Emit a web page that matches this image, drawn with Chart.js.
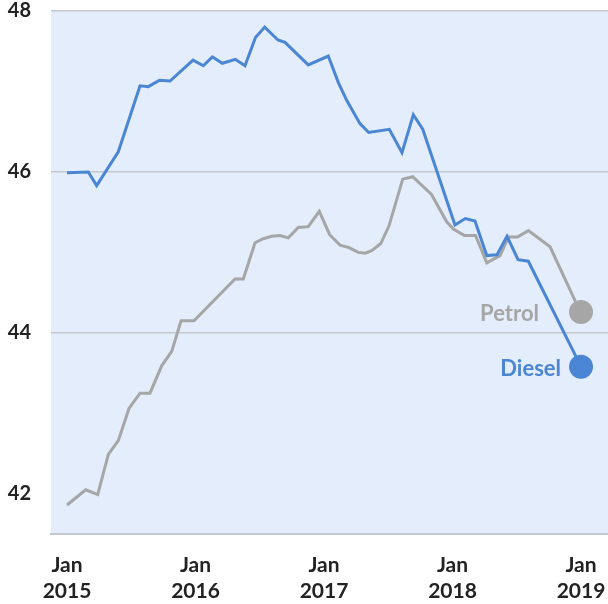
<!DOCTYPE html>
<html>
<head>
<meta charset="utf-8">
<script src="https://cdn.jsdelivr.net/npm/chart.js@4"></script>
<style>
    html, body { margin: 0; padding: 0; background: #ffffff; }
    #wrap { width: 608px; height: 604px; }
</style>
</head>
<body>
<div id="wrap"><canvas id="fuelChart" width="608" height="604"></canvas></div>
<script>
// months since Jan 2015
const dieselMonths = [0, 1.99, 2.77, 4.79, 6.82, 7.59, 8.64, 9.62, 11.77, 12.73, 13.57, 14.5, 15.72, 16.62, 17.6, 18.46, 19.7, 20.36, 22.53, 24.4, 25.34, 26.12, 27.36, 28.17, 30.1, 31.28, 32.34, 33.22, 36.23, 37.2, 38.1, 39.2, 40.16, 41.09, 42.12, 43.08, 48];
const dieselPrice = [45.99, 46.0, 45.83, 46.25, 47.07, 47.06, 47.14, 47.13, 47.39, 47.32, 47.43, 47.35, 47.4, 47.32, 47.67, 47.8, 47.64, 47.61, 47.33, 47.44, 47.11, 46.89, 46.6, 46.49, 46.53, 46.24, 46.71, 46.53, 45.34, 45.42, 45.39, 44.96, 44.97, 45.2, 44.91, 44.89, 43.58];

const petrolMonths = [0, 1.75, 2.87, 3.86, 4.79, 5.79, 6.82, 7.75, 8.84, 9.78, 10.65, 11.86, 15.69, 16.46, 17.56, 18.33, 19.12, 19.89, 20.67, 21.6, 22.53, 23.56, 24.53, 25.5, 26.34, 27.2, 27.83, 28.46, 29.3, 30.07, 31.35, 32.28, 34.04, 35.46, 36.08, 37.12, 38.15, 39.2, 40.44, 41.23, 42.07, 43.08, 45.11, 47.44, 48];
const petrolPrice = [41.86, 42.05, 41.99, 42.49, 42.66, 43.06, 43.25, 43.25, 43.59, 43.77, 44.15, 44.15, 44.67, 44.67, 45.12, 45.17, 45.2, 45.21, 45.18, 45.31, 45.32, 45.51, 45.22, 45.09, 45.06, 45.0, 44.99, 45.02, 45.11, 45.33, 45.91, 45.94, 45.72, 45.38, 45.29, 45.21, 45.21, 44.87, 44.96, 45.19, 45.19, 45.27, 45.07, 44.4, 44.26];

const yTicks = [42, 44, 46, 48];
const xTicks = [0, 12, 24, 36, 48];
const xTickMonth = 'Jan';
const startYear = 2015;

const COLORS = {
    diesel: '#4a86d4',
    petrol: '#a6a6a6',
    plotBg: '#e3edfb',
    grid: '#c5c9ce',
    text: '#222222'
};

const FONT = 'Lato, "Open Sans", sans-serif';

function toPoints(xs, ys) {
    return xs.map((x, i) => ({ x: x, y: ys[i] }));
}

function endRadius(ctx) {
    return ctx.dataIndex === ctx.dataset.data.length - 1 ? 12 : 0;
}

const plotBackground = {
    id: 'plotBackground',
    beforeDraw(chart) {
        const { ctx, chartArea } = chart;
        ctx.save();
        ctx.fillStyle = COLORS.plotBg;
        ctx.fillRect(chartArea.left, chartArea.top, chartArea.right - chartArea.left, chartArea.bottom - chartArea.top);
        ctx.restore();
    }
};

// series names written beside the end markers
const endLabels = {
    id: 'endLabels',
    afterDatasetsDraw(chart) {
        const { ctx } = chart;
        ctx.save();
        ctx.font = 'bold 22px ' + FONT;
        ctx.textAlign = 'right';
        ctx.textBaseline = 'middle';
        chart.data.datasets.forEach((ds, i) => {
            const meta = chart.getDatasetMeta(i);
            const last = meta.data[meta.data.length - 1];
            ctx.fillStyle = ds.borderColor;
            ctx.fillText(ds.label, last.x - ds.labelGap, last.y + 2);
        });
        ctx.restore();
    }
};

const ctx = document.getElementById('fuelChart').getContext('2d');
new Chart(ctx, {
    type: 'line',
    data: {
        datasets: [{
            label: 'Diesel',
            data: toPoints(dieselMonths, dieselPrice),
            borderColor: COLORS.diesel,
            backgroundColor: COLORS.diesel,
            borderWidth: 3,
            tension: 0,
            pointRadius: endRadius,
            pointHoverRadius: endRadius,
            pointBorderWidth: 0,
            labelGap: 20,
            fill: false,
            clip: false
        }, {
            label: 'Petrol',
            data: toPoints(petrolMonths, petrolPrice),
            borderColor: COLORS.petrol,
            backgroundColor: COLORS.petrol,
            borderWidth: 3,
            tension: 0,
            pointRadius: endRadius,
            pointHoverRadius: endRadius,
            pointBorderWidth: 0,
            labelGap: 42,
            fill: false,
            clip: false
        }]
    },
    options: {
        responsive: false,
        animation: false,
        layout: { autoPadding: false, padding: { top: 11, right: 0, bottom: 0, left: 0 } },
        plugins: {
            legend: { display: false },
            tooltip: { enabled: false }
        },
        scales: {
            x: {
                type: 'linear',
                min: -1.494,
                max: 50.52,
                afterBuildTicks: (axis) => {
                    axis.ticks = xTicks.map((v) => ({ value: v }));
                },
                afterFit: (axis) => {
                    axis.height = 70;
                    axis.paddingLeft = 0;
                    axis.paddingRight = 0;
                },
                grid: { display: false, drawTicks: false },
                border: { display: true, color: COLORS.grid, width: 2 },
                ticks: {
                    color: COLORS.text,
                    padding: 18,
                    maxRotation: 0,
                    autoSkip: false,
                    font: { family: FONT, size: 21, weight: 'bold', lineHeight: 1.25 },
                    callback: (v) => [xTickMonth, String(startYear + v / 12)]
                }
            },
            y: {
                min: 41.5,
                max: 48,
                afterBuildTicks: (axis) => {
                    axis.ticks = yTicks.map((v) => ({ value: v }));
                },
                afterFit: (axis) => {
                    axis.width = 51;
                    axis.paddingTop = 0;
                    axis.paddingBottom = 0;
                },
                grid: {
                    drawTicks: false,
                    lineWidth: 1.5,
                    color: (c) => (c.tick && c.tick.value === 42 ? 'rgba(0,0,0,0)' : COLORS.grid)
                },
                border: { display: false },
                ticks: {
                    color: COLORS.text,
                    padding: 20,
                    font: { family: FONT, size: 20, weight: 'bold' }
                }
            }
        }
    },
    plugins: [plotBackground, endLabels]
});
</script>
</body>
</html>
